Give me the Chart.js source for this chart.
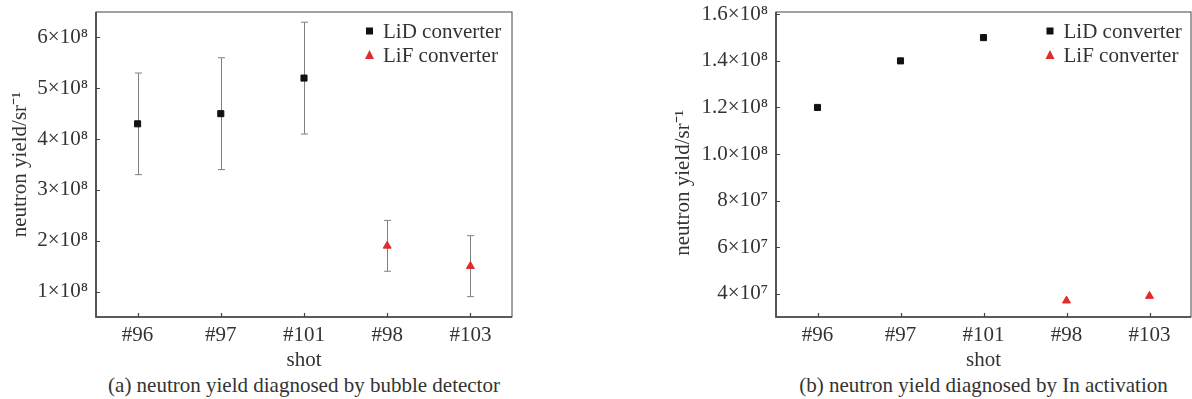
<!DOCTYPE html>
<html>
<head>
<meta charset="utf-8">
<script src="https://cdn.jsdelivr.net/npm/chart.js@4.4.1/dist/chart.umd.min.js"></script>
<style>
  body { margin: 0; background: #fff; width: 1192px; height: 399px; position: relative; overflow: hidden; }
  .panel { position: absolute; top: 0; width: 596px; height: 399px; }
  .caption { position: absolute; top: 373px; height: 26px; line-height: 24px; text-align: center;
             font-family: "Liberation Serif", serif; font-size: 21px; color: #333; white-space: nowrap; }
</style>
</head>
<body>
<div class="panel" style="left:0">
  <canvas id="chartA" width="596" height="373"></canvas>
  <div class="caption" style="left:96px;width:416px">(a) neutron yield diagnosed by bubble detector</div>
</div>
<div class="panel" style="left:596px">
  <canvas id="chartB" width="596" height="373"></canvas>
  <div class="caption" style="left:180px;width:415px">(b) neutron yield diagnosed by In activation</div>
</div>
<script>
// shots on the x axis
const shots = ['#96', '#97', '#101', '#98', '#103'];

// (a) bubble detector
const bubbleLiD = [4.3e8, 4.5e8, 5.2e8, null, null];
const bubbleLiDHigh = [5.3e8, 5.6e8, 6.3e8, null, null];
const bubbleLiDLow = [3.3e8, 3.4e8, 4.1e8, null, null];
const bubbleLiF = [null, null, null, 1.9e8, 1.5e8];
const bubbleLiFHigh = [null, null, null, 2.4e8, 2.1e8];
const bubbleLiFLow = [null, null, null, 1.4e8, 0.9e8];
const bubbleTicks = [1e8, 2e8, 3e8, 4e8, 5e8, 6e8];
const bubbleTickLabels = ['1×10⁸', '2×10⁸', '3×10⁸', '4×10⁸', '5×10⁸', '6×10⁸'];

// (b) In activation
const activLiD = [1.2e8, 1.4e8, 1.5e8, null, null];
const activLiF = [null, null, null, 3.7e7, 3.9e7];
const activTicks = [4e7, 6e7, 8e7, 1e8, 1.2e8, 1.4e8, 1.6e8];
const activTickLabels = ['4×10⁷', '6×10⁷', '8×10⁷', '1.0×10⁸', '1.2×10⁸', '1.4×10⁸', '1.6×10⁸'];

const legendNames = ['LiD converter', 'LiF converter'];

const FONT = 'Liberation Serif';
const FSIZE = 21;
const TEXT = '#333';
const AXIS = '#444';
const RED = '#de2d2d';

// box around the plot, inward tick marks, error bars and the inside legend
const framePlugin = {
  id: 'frame',
  beforeDatasetsDraw(chart, args, opts) {
    const ctx = chart.ctx;
    const x = chart.scales.x, y = chart.scales.y;
    (opts.errors || []).forEach(err => {
      ctx.save();
      ctx.strokeStyle = '#808080';
      ctx.lineWidth = 1;
      err.high.forEach((hi, i) => {
        if (hi == null) return;
        const px = Math.round(x.getPixelForValue(i)) + 0.5;
        const top = y.getPixelForValue(hi);
        const bot = y.getPixelForValue(err.low[i]);
        ctx.beginPath();
        ctx.moveTo(px, top); ctx.lineTo(px, bot);
        ctx.moveTo(px - 3.5, top); ctx.lineTo(px + 3.5, top);
        ctx.moveTo(px - 3.5, bot); ctx.lineTo(px + 3.5, bot);
        ctx.stroke();
      });
      ctx.restore();
    });
  },
  afterDraw(chart, args, opts) {
    const ctx = chart.ctx;
    const a = chart.chartArea;
    const x = chart.scales.x, y = chart.scales.y;
    ctx.save();
    ctx.strokeStyle = AXIS;
    ctx.lineWidth = 1;
    ctx.strokeRect(a.left, a.top, a.right - a.left, a.bottom - a.top);
    ctx.lineWidth = 1.6;
    ctx.beginPath();
    ctx.moveTo(a.left, a.top); ctx.lineTo(a.left, a.bottom); ctx.lineTo(a.right, a.bottom);
    ctx.stroke();
    ctx.lineWidth = 1.2;
    ctx.beginPath();
    x.ticks.forEach((t, i) => {
      const px = Math.round(x.getPixelForTick(i)) + 0.5;
      ctx.moveTo(px, a.bottom); ctx.lineTo(px, a.bottom - 4);
    });
    y.ticks.forEach((t, i) => {
      const py = Math.round(y.getPixelForTick(i)) + 0.5;
      ctx.moveTo(a.left, py); ctx.lineTo(a.left + 4, py);
    });
    ctx.stroke();

    // legend
    const lx = opts.legendX, ly = 31;
    ctx.fillStyle = '#111';
    ctx.fillRect(lx - 3.5, ly - 3.5, 7, 7);
    ctx.fillStyle = RED;
    ctx.beginPath();
    ctx.moveTo(lx, ly + 19); ctx.lineTo(lx + 4.5, ly + 28); ctx.lineTo(lx - 4.5, ly + 28);
    ctx.closePath();
    ctx.fill();
    ctx.fillStyle = TEXT;
    ctx.font = FSIZE + 'px "' + FONT + '"';
    ctx.textBaseline = 'middle';
    ctx.fillText(legendNames[0], lx + 13.5, ly + 1);
    ctx.fillText(legendNames[1], lx + 13.5, ly + 25);
    ctx.restore();
  }
};

function makeChart(id, lidData, lifData, ticks, tickLabels, range, yWidth, titlePad, padRight, yTitle, plugOpts) {
  return new Chart(document.getElementById(id), {
    type: 'line',
    data: {
      labels: shots,
      datasets: [
        {
          label: legendNames[0], data: lidData, showLine: false,
          pointStyle: 'rect', pointRadius: 4.3, borderWidth: 1,
          backgroundColor: '#111', borderColor: '#111'
        },
        {
          label: legendNames[1], data: lifData, showLine: false,
          pointStyle: 'triangle', pointRadius: 4.6, borderWidth: 1,
          backgroundColor: RED, borderColor: RED
        }
      ]
    },
    options: {
      responsive: false,
      animation: false,
      layout: { autoPadding: false, padding: { top: 12, right: padRight, left: 0, bottom: 0 } },
      plugins: { legend: { display: false }, tooltip: { enabled: false }, frame: plugOpts },
      scales: {
        x: {
          type: 'category', offset: true,
          grid: { display: false, drawTicks: false }, border: { display: false },
          ticks: { color: TEXT, font: { family: FONT, size: FSIZE }, padding: 6, maxRotation: 0, autoSkip: false },
          title: { display: true, text: 'shot', color: TEXT, font: { family: FONT, size: FSIZE }, padding: { top: 0, bottom: 0 } },
          afterFit: s => { s.height = 56; s.paddingLeft = 0; s.paddingRight = 0; }
        },
        y: {
          min: range[0], max: range[1],
          grid: { display: false, drawTicks: false }, border: { display: false },
          afterBuildTicks: s => { s.ticks = ticks.map(v => ({ value: v })); },
          ticks: { color: TEXT, font: { family: FONT, size: FSIZE }, padding: 8, callback: (v, i) => tickLabels[i] },
          title: { display: true, text: yTitle, color: TEXT, font: { family: FONT, size: FSIZE }, padding: { top: titlePad, bottom: 0 } },
          afterFit: s => { s.width = yWidth; s.paddingTop = 0; s.paddingBottom = 0; }
        }
      }
    },
    plugins: [framePlugin]
  });
}

makeChart('chartA', bubbleLiD, bubbleLiF, bubbleTicks, bubbleTickLabels, [0.5e8, 6.5e8], 96, 7.4, 84,
  'neutron yield/sr⁻¹',
  { legendX: 369.5, errors: [
    { high: bubbleLiDHigh, low: bubbleLiDLow },
    { high: bubbleLiFHigh, low: bubbleLiFLow }
  ] });

makeChart('chartB', activLiD, activLiF, activTicks, activTickLabels, [3e7, 1.61e8], 180, 74.4, 1,
  'neutron yield/sr⁻¹\u00a0\u00a0\u00a0\u00a0\u00a0\u00a0\u00a0',
  { legendX: 454, errors: [] });
</script>
</body>
</html>
